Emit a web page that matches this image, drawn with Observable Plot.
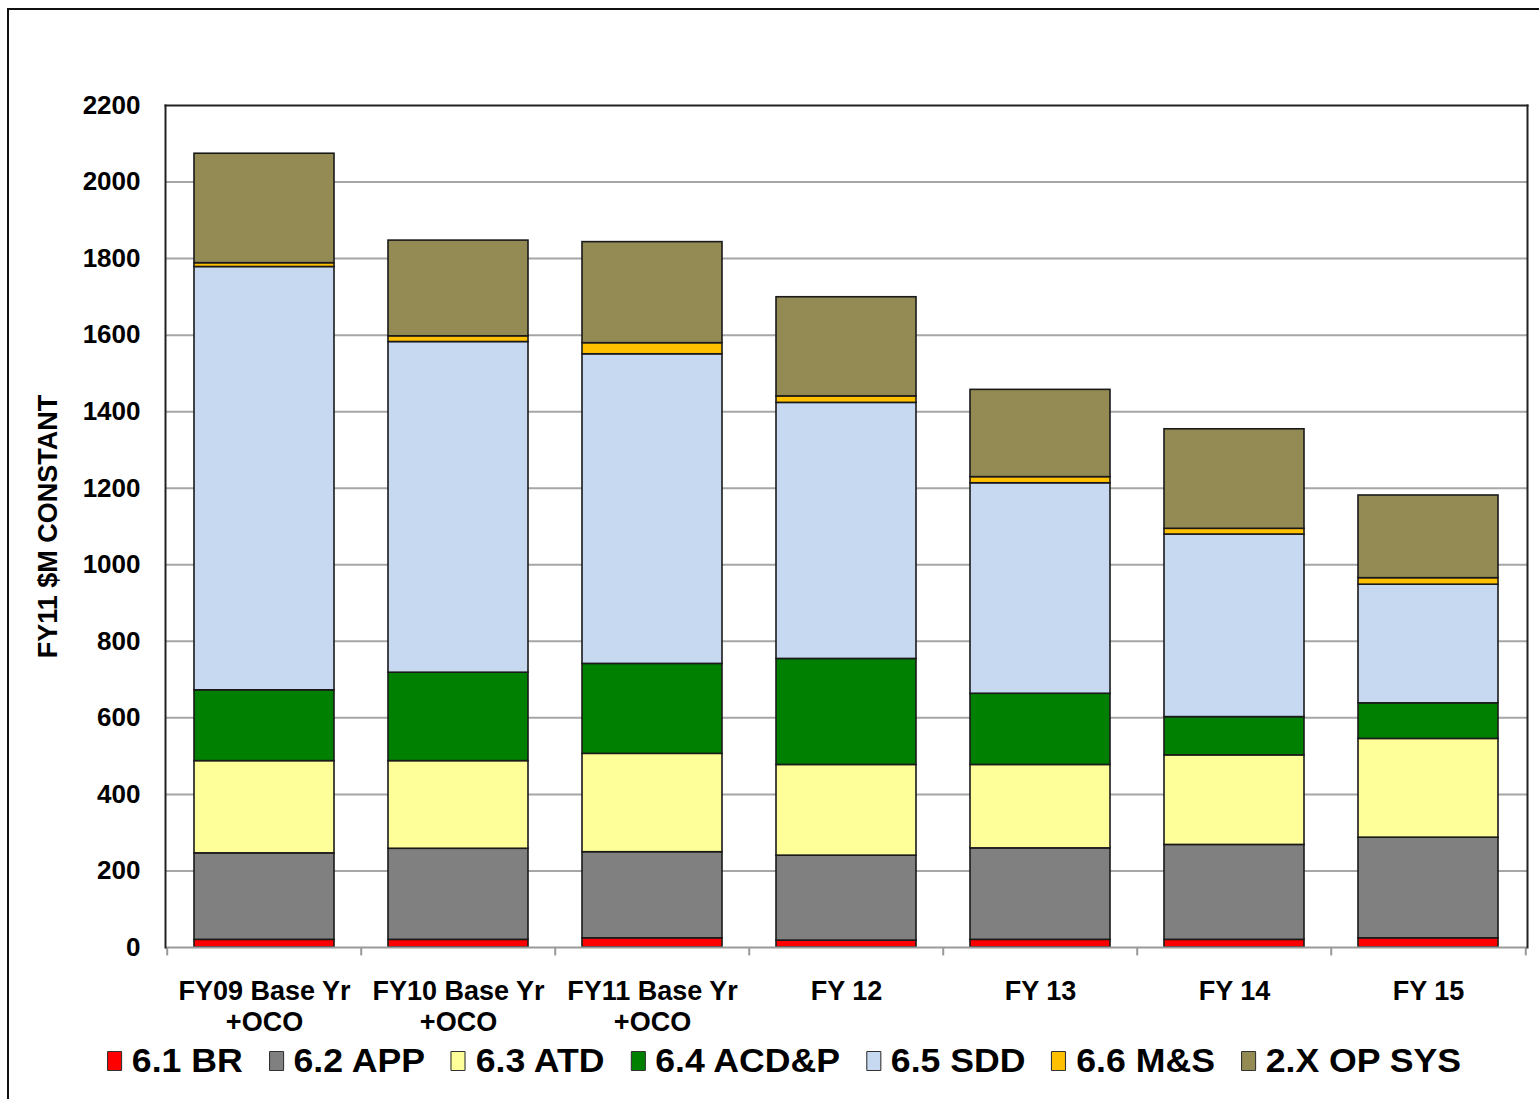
<!DOCTYPE html>
<html>
<head>
<meta charset="utf-8">
<script src="https://cdn.jsdelivr.net/npm/d3@7"></script>
<script src="https://cdn.jsdelivr.net/npm/@observablehq/plot@0.6"></script>
<style>
  html, body { margin: 0; padding: 0; background: #fff; overflow: hidden; }
  #wrap { position: relative; width: 1539px; height: 1099px; overflow: hidden; font-family: "Liberation Sans", Arial, sans-serif; }
  #border { position: absolute; left: 7px; top: 8px; width: 1600px; height: 1200px; border: 2px solid #111; box-sizing: border-box; }
  #chart { position: absolute; left: 0; top: 0; }
  #legend { position: absolute; left: 107px; top: 1038px; display: flex; align-items: center; height: 46px; font-weight: bold; font-size: 33px; color: #000; white-space: nowrap; transform: scaleX(1.08); transform-origin: left center; }
  .item { display: flex; align-items: center; margin-right: 24px; }
  .sw { width: 14px; height: 20px; border: 1.5px solid #333; box-sizing: border-box; margin-right: 9px; border-radius: 1px; }
</style>
</head>
<body>
<div id="wrap">
  <div id="border"></div>
  <div id="chart"></div>
  <div id="legend"></div>
</div>
<script>
const categories = ["FY09 Base Yr\n+OCO", "FY10 Base Yr\n+OCO", "FY11 Base Yr\n+OCO", "FY 12", "FY 13", "FY 14", "FY 15"];
const seriesNames = ["6.1 BR", "6.2 APP", "6.3 ATD", "6.4 ACD&P", "6.5 SDD", "6.6 M&S", "2.X OP SYS"];
const seriesColors = ["#ff0000", "#808080", "#ffff99", "#008000", "#c6d9f1", "#ffc000", "#948a54"];

const br    = [20, 20, 24, 18, 20, 20, 24];
const app   = [226, 238, 225, 222, 239, 248, 263];
const atd   = [241, 229, 257, 237, 218, 234, 258];
const acdp  = [185, 231, 235, 277, 186, 100, 93];
const sdd   = [1106, 864, 809, 669, 550, 477, 310];
const ms    = [10, 15, 29, 17, 16, 15, 17];
const opsys = [286, 250, 264, 259, 228, 260, 216];

const yTicks = [0, 200, 400, 600, 800, 1000, 1200, 1400, 1600, 1800, 2000, 2200];

const seriesValues = [br, app, atd, acdp, sdd, ms, opsys];
const data = [];
categories.forEach((c, i) => {
  seriesNames.forEach((s, j) => {
    data.push({category: c, series: s, value: seriesValues[j][i]});
  });
});

const W = 1539, H = 1040;
const mL = 165, mR = 12, mT = 105, mB = 93;
const step = (W - mL - mR) / categories.length;
const font = "'Liberation Sans', Arial, sans-serif";

const chart = Plot.plot({
  width: W,
  height: H,
  marginLeft: mL,
  marginRight: mR,
  marginTop: mT,
  marginBottom: mB,
  style: {fontFamily: font, background: "transparent", color: "#000"},
  x: {domain: categories, paddingInner: 0.28, paddingOuter: 0.14, label: null},
  y: {domain: [0, 2200], label: null},
  color: {domain: seriesNames, range: seriesColors},
  marks: [
    Plot.ruleY(yTicks.filter(t => t > 0 && t < 2200), {stroke: "#a6a6a6", strokeWidth: 2}),
    Plot.barY(data, {x: "category", y: "value", fill: "series", stroke: "#1a1a1a", strokeWidth: 1.6, order: seriesNames}),
    Plot.ruleY([0], {stroke: "#999", strokeWidth: 2}),
    Plot.ruleX(categories, {x: d => d, y1: 0, y2: -22, dx: -step / 2, stroke: "#999", strokeWidth: 2}),
    Plot.ruleX([categories[categories.length - 1]], {x: d => d, y1: 0, y2: -22, dx: step / 2, stroke: "#999", strokeWidth: 2}),
    Plot.frame({anchor: "top", stroke: "#222", strokeWidth: 2}),
    Plot.frame({anchor: "left", stroke: "#222", strokeWidth: 2}),
    Plot.frame({anchor: "right", stroke: "#222", strokeWidth: 2}),
    Plot.axisY({ticks: yTicks, tickFormat: d => String(d), tickSize: 0, tickPadding: 25, fontSize: 26, fontWeight: "bold", label: null}),
    Plot.axisY({ticks: [], label: "FY11 $M CONSTANT", labelAnchor: "center", labelArrow: "none", labelOffset: 128, fontSize: 27, fontWeight: "bold"}),
    Plot.axisX({tickSize: 0, tickPadding: 30, fontSize: 27, fontWeight: "bold", lineHeight: 1.15, label: null})
  ]
});
document.getElementById("chart").appendChild(chart);

const legend = document.getElementById("legend");
seriesNames.forEach((s, j) => {
  const item = document.createElement("div");
  item.className = "item";
  const sw = document.createElement("span");
  sw.className = "sw";
  sw.style.background = seriesColors[j];
  const t = document.createElement("span");
  t.textContent = s;
  item.appendChild(sw);
  item.appendChild(t);
  legend.appendChild(item);
});
</script>
</body>
</html>
